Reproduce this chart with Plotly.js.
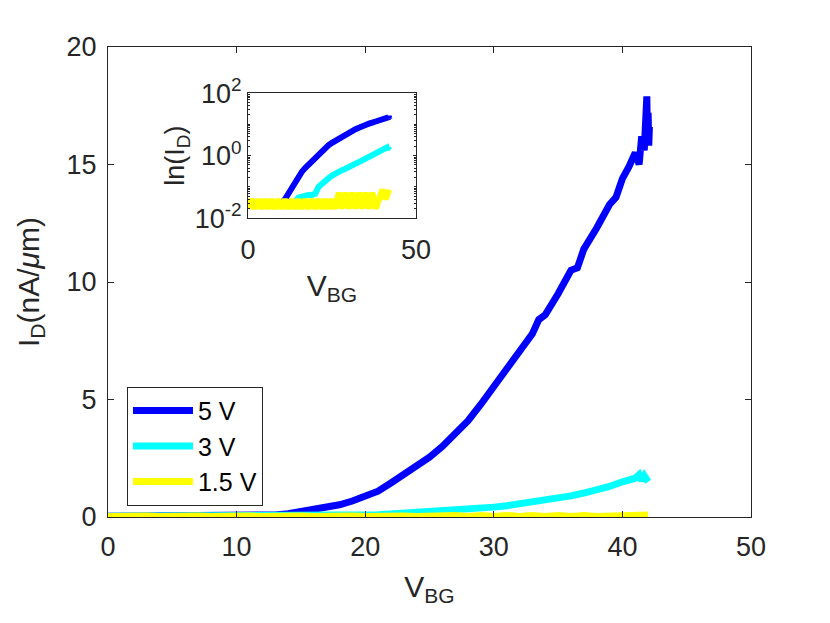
<!DOCTYPE html>
<html>
<head>
<meta charset="utf-8">
<script src="https://cdn.plot.ly/plotly-3.0.1.min.js"></script>
<style>html,body{margin:0;padding:0;background:#fff;}#chart{width:830px;height:623px;}</style>
</head>
<body>
<div id="chart"></div>
<script>
// V_BG values and drain currents (nA/um)
const vbgBlue = [0,1,2,3,4,5,6,7,8,9,10,11,12,13,14,15,16,17,18,19,20,21,22,23,24,25,26,27,28,29,30,31,32,33,33.5,34,35,36,36.5,37,38,39,39.5,40,40.5,41,41.3,41.5,41.7,41.8,41.9,41.95,42.0,42.05,42.1];
const idBlue  = [0.03,0.03,0.03,0.03,0.03,0.03,0.03,0.03,0.03,0.03,0.03,0.04,0.06,0.09,0.14,0.22,0.3,0.4,0.52,0.68,0.86,1.1,1.45,1.8,2.15,2.55,3.0,3.55,4.1,4.8,5.55,6.3,7.0,7.8,8.4,8.6,9.5,10.5,10.6,11.4,12.3,13.3,13.6,14.4,14.9,15.5,15.0,16.2,15.6,16.8,17.9,16.0,17.2,15.8,16.6];

const vbgCyan = [0,1,2,3,4,5,6,7,8,9,10,11,12,13,14,15,16,17,18,19,20,21,22,23,24,25,26,27,28,29,30,31,32,33,34,35,36,37,38,39,40,41,41.3,41.5,41.7,42];
const idCyan  = [0.03,0.03,0.03,0.03,0.03,0.03,0.03,0.03,0.03,0.03,0.03,0.03,0.03,0.03,0.03,0.045,0.05,0.05,0.055,0.055,0.06,0.1,0.13,0.16,0.19,0.23,0.27,0.3,0.34,0.38,0.42,0.48,0.55,0.63,0.7,0.8,0.9,1.02,1.15,1.3,1.5,1.65,1.8,1.55,1.75,1.5];

const vbgYellow = [0,1,2,3,4,5,6,7,8,9,10,11,12,13,14,15,16,17,18,19,20,21,22,23,24,25,26,27,28,29,30,31,32,33,34,35,36,37,38,39,40,41,42];
const idYellow  = [0.02,0.04,0.02,0.04,0.02,0.04,0.02,0.04,0.02,0.04,0.02,0.04,0.02,0.04,0.02,0.04,0.02,0.04,0.02,0.04,0.02,0.04,0.02,0.04,0.02,0.04,0.02,0.065,0.02,0.065,0.02,0.065,0.02,0.065,0.02,0.065,0.02,0.065,0.02,0.04,0.08,0.04,0.08];

const seriesNames = ['5 V', '3 V', '1.5 V'];
const seriesColors = ['#0000ff', '#00ffff', '#ffff00'];
const xTicksMain = [0,10,20,30,40,50];
const yTicksMain = [0,5,10,15,20];
const xTicksInset = [0,50];
const yTicksInset = [0.01,1,100];
const yTickTextInset = ['10<sup>-2</sup>','10<sup>0</sup>','10<sup>2</sup>'];

const xs = [vbgBlue, vbgCyan, vbgYellow];
const ys = [idBlue, idCyan, idYellow];

const traces = [];
for (let i = 0; i < 3; i++) {
  traces.push({x: xs[i], y: ys[i], type: 'scatter', mode: 'lines', name: seriesNames[i],
    line: {color: seriesColors[i], width: 7}, xaxis: 'x', yaxis: 'y'});
}
for (let i = 0; i < 3; i++) {
  traces.push({x: xs[i], y: ys[i], type: 'scatter', mode: 'lines', name: seriesNames[i], showlegend: false,
    line: {color: seriesColors[i], width: 6}, xaxis: 'x2', yaxis: 'y2'});
}

const axCol = '#262626';
const fam = 'Liberation Sans, Arial, sans-serif';
const layout = {
  width: 830, height: 623,
  margin: {l: 108, r: 79, t: 47, b: 106},
  paper_bgcolor: '#ffffff', plot_bgcolor: '#ffffff',
  font: {family: fam, color: axCol, size: 27},
  showlegend: true,
  legend: {x: 0.0295, xanchor: 'left', y: 0.277, yanchor: 'top', bgcolor: '#ffffff',
    bordercolor: axCol, borderwidth: 1, font: {size: 25, color: '#000000', family: fam}, itemwidth: 60},
  xaxis: {domain: [0, 1], range: [0, 50], tickvals: xTicksMain, ticks: 'inside', ticklen: 6,
    tickcolor: axCol, showline: true, linecolor: axCol, linewidth: 1, mirror: 'ticks',
    showgrid: false, zeroline: false, tickfont: {size: 27}, ticklabelstandoff: 6,
    title: {text: 'V<sub>BG</sub>', font: {size: 30}, standoff: 14}},
  yaxis: {domain: [0, 1], range: [0, 20], tickvals: yTicksMain, ticks: 'inside', ticklen: 6,
    tickcolor: axCol, showline: true, linecolor: axCol, linewidth: 1, mirror: 'ticks',
    showgrid: false, zeroline: false, tickfont: {size: 27}, ticklabelstandoff: 5,
    title: {text: 'I<sub>D</sub>(nA/<i>μ</i>m)', font: {size: 30}, standoff: 18}},
  xaxis2: {domain: [0.2177, 0.479], anchor: 'y2', range: [0, 50], tickvals: xTicksInset, ticks: 'inside', ticklen: 3,
    tickcolor: axCol, showline: true, linecolor: axCol, linewidth: 1, mirror: 'ticks',
    showgrid: false, zeroline: false, tickfont: {size: 27}, ticklabelstandoff: 8,
    title: {text: 'V<sub>BG</sub>', font: {size: 30}, standoff: 10}},
  yaxis2: {domain: [0.636, 0.902], anchor: 'x2', type: 'log', range: [-2, 2], tickvals: yTicksInset,
    ticktext: yTickTextInset, ticks: 'inside', ticklen: 3,
    tickcolor: axCol, showline: true, linecolor: axCol, linewidth: 1, mirror: 'ticks',
    showgrid: false, zeroline: false, tickfont: {size: 27},
    minor: {ticks: 'inside', ticklen: 2, tickcolor: axCol, dtick: 'D1', showgrid: false},
    title: {text: 'ln(I<sub>D</sub>)', font: {size: 27}}}
};

Plotly.newPlot('chart', traces, layout, {staticPlot: true, displayModeBar: false});
</script>
</body>
</html>
